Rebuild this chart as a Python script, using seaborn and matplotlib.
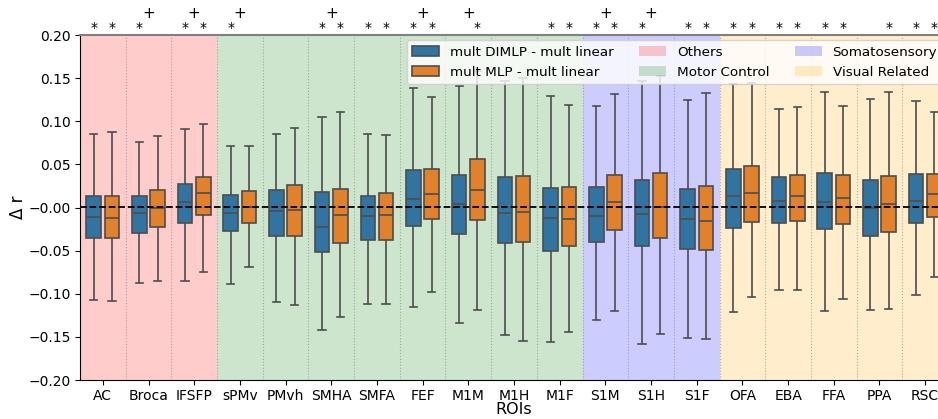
import numpy as np
import pandas as pd
import matplotlib
matplotlib.use("Agg")
import matplotlib.pyplot as plt
from matplotlib.patches import Patch
import seaborn as sns

rois = ["AC", "Broca", "IFSFP", "sPMv", "PMvh", "SMHA", "SMFA", "FEF", "M1M", "M1H",
        "M1F", "S1M", "S1H", "S1F", "OFA", "EBA", "FFA", "PPA", "RSC"]
models = ["mult DIMLP - mult linear", "mult MLP - mult linear"]

# box statistics (whisker low, q1, median, q3, whisker high)
dimlp_low = [-0.107, -0.088, -0.0855, -0.0889, -0.109, -0.1423, -0.112, -0.1156, -0.1334, -0.1477,
             -0.1558, -0.1299, -0.1582, -0.1512, -0.1207, -0.0955, -0.1195, -0.1183, -0.1017]
dimlp_q1 = [-0.0356, -0.029, -0.0182, -0.0267, -0.0325, -0.0518, -0.0375, -0.0213, -0.0309, -0.0414,
            -0.0499, -0.0402, -0.0445, -0.0483, -0.024, -0.0182, -0.0244, -0.0325, -0.0182]
dimlp_med = [-0.0108, -0.0066, 0.0066, -0.0058, -0.0039, -0.0228, -0.0097, 0.010, 0.0035, -0.0062,
             -0.012, -0.0093, -0.007, -0.0135, 0.0131, 0.0077, 0.0066, -0.0008, 0.0077]
dimlp_q3 = [0.0128, 0.0131, 0.0271, 0.0147, 0.0205, 0.0174, 0.0135, 0.0437, 0.0379, 0.0348,
            0.0228, 0.024, 0.0317, 0.0217, 0.0449, 0.0348, 0.0398, 0.0317, 0.039]
dimlp_high = [0.085, 0.0754, 0.0909, 0.0708, 0.0855, 0.1052, 0.085, 0.1384, 0.1404, 0.1466,
              0.1292, 0.1172, 0.1466, 0.1245, 0.1427, 0.1141, 0.1338, 0.1257, 0.1237]

mlp_low = [-0.1087, -0.0847, -0.075, -0.0692, -0.1129, -0.1268, -0.1114, -0.0974, -0.1183, -0.1543,
           -0.1446, -0.1195, -0.1466, -0.1524, -0.1032, -0.0955, -0.106, -0.1176, -0.0808]
mlp_q1 = [-0.0356, -0.0224, -0.0089, -0.0178, -0.0336, -0.0406, -0.0375, -0.0135, -0.0143, -0.0398,
          -0.0441, -0.0263, -0.0352, -0.0495, -0.0166, -0.0155, -0.0197, -0.0282, -0.0112]
mlp_med = [-0.0116, -0.0008, 0.0166, 0.0, -0.0027, -0.0085, -0.0085, 0.0151, 0.0205, -0.005,
           -0.0131, 0.0062, 0.001, -0.0159, 0.017, 0.0128, 0.0112, 0.0035, 0.0159]
mlp_q3 = [0.0139, 0.0205, 0.0356, 0.0189, 0.0263, 0.022, 0.0166, 0.0449, 0.0557, 0.0367,
          0.0232, 0.0375, 0.0398, 0.0247, 0.0483, 0.0379, 0.0375, 0.0367, 0.0387]
mlp_high = [0.088, 0.0824, 0.0963, 0.0712, 0.0924, 0.1106, 0.0835, 0.1284, 0.158, 0.150,
            0.1191, 0.1315, 0.153, 0.1323, 0.1442, 0.1164, 0.1176, 0.1342, 0.1102]

dimlp_sig = [1, 1, 1, 1, 0, 1, 1, 1, 0, 0, 1, 1, 1, 1, 1, 1, 1, 0, 1]
mlp_sig = [1, 0, 1, 0, 0, 1, 1, 1, 1, 0, 1, 1, 0, 1, 1, 1, 1, 1, 1]
plus_sig = [0, 1, 1, 1, 0, 1, 0, 1, 1, 0, 0, 1, 1, 0, 0, 0, 0, 0, 0]

group_names = ["Others", "Motor Control", "Somatosensory", "Visual Related"]
group_sizes = [3, 8, 3, 5]
group_colors = ["red", "green", "blue", "orange"]

rows = []
for i, r in enumerate(rois):
    for v in (dimlp_low[i], dimlp_q1[i], dimlp_med[i], dimlp_q3[i], dimlp_high[i]):
        rows.append((r, models[0], v))
    for v in (mlp_low[i], mlp_q1[i], mlp_med[i], mlp_q3[i], mlp_high[i]):
        rows.append((r, models[1], v))
df = pd.DataFrame(rows, columns=["ROIs", "model", "dr"])

fig = plt.figure(figsize=(9.38, 4.19), dpi=100)
W = 938
ax = fig.add_axes([80 / W, 39 / 419, 868 / W, 345 / 419])

# background group spans
start = 0
for name, size, col in zip(group_names, group_sizes, group_colors):
    ax.axvspan(start - 0.5, start + size - 0.5, color=col, alpha=0.2, lw=0, zorder=0)
    start += size
for k in range(len(rois) - 1):
    ax.axvline(k + 0.5, color="gray", ls=":", lw=0.8, alpha=0.6, zorder=0.5)

sns.boxplot(data=df, x="ROIs", y="dr", hue="model", order=rois, hue_order=models,
            whis=(0, 100), width=0.8, gap=0.2, linewidth=1.2, linecolor="0.3",
            ax=ax, zorder=2)

ax.axhline(0, color="black", ls="--", lw=1.3, zorder=3)
ax.set_xlim(-0.5, len(rois) - 0.5)
ax.set_ylim(-0.2, 0.2)
ax.set_yticks(np.arange(-0.2, 0.201, 0.05))
ax.yaxis.set_major_formatter(matplotlib.ticker.FuncFormatter(lambda v, p: f"{v:.2f}".replace("-", "\u2212")))
ax.tick_params(labelsize=10, pad=3)
ax.set_xlabel("ROIs", fontsize=11.5, labelpad=-0.5)
ax.set_ylabel("\u0394 r", fontsize=12, labelpad=1)
for s in ["top", "right"]:
    ax.spines[s].set_color("0.5")
    ax.spines[s].set_linewidth(1.5)

# significance markers
off = 0.2
for i in range(len(rois)):
    if dimlp_sig[i]:
        ax.text(i - off, 0.2085, "*", ha="center", va="center", fontsize=10, clip_on=False)
    if mlp_sig[i]:
        ax.text(i + off, 0.2085, "*", ha="center", va="center", fontsize=10, clip_on=False)
    if plus_sig[i]:
        ax.text(i, 0.2255, "+", ha="center", va="center", fontsize=11, clip_on=False)

handles, labels = ax.get_legend_handles_labels()
handles = list(handles[:2]) + [Patch(facecolor=c, alpha=0.2) for c in group_colors]
labels = list(labels[:2]) + group_names
ax.legend(handles, labels, ncol=3, loc="upper right", fontsize=9.7, title=None,
          columnspacing=1.9, borderaxespad=0.4)

fig.savefig("out.png", dpi=100)
